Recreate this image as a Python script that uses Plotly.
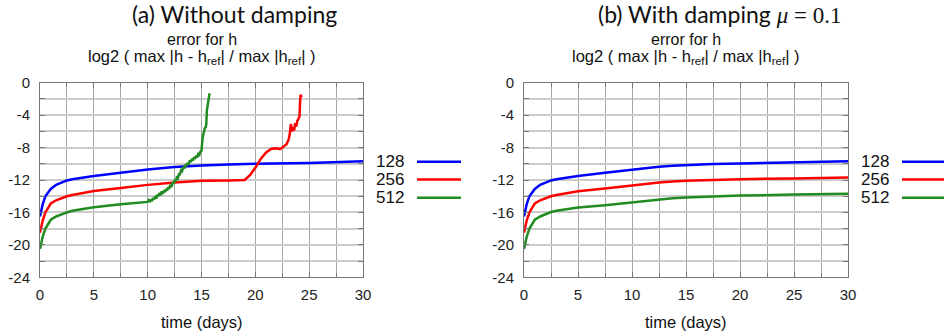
import plotly.graph_objects as go

# ---------------- data ----------------
series_names = ["128", "256", "512"]
series_colors = ["#0000ff", "#ff0000", "#228b22"]

# Panel (a) without damping
a_t_128 = [0, 0.25, 0.5, 1, 1.5, 2, 2.5, 3, 4, 5, 7.5, 10, 12.5, 15, 17.5, 20, 25, 30]
a_v_128 = [-16.5, -15.0, -14.0, -13.1, -12.6, -12.3, -12.05, -11.9, -11.7, -11.5, -11.1, -10.7, -10.4, -10.2, -10.1, -10.0, -9.9, -9.7]

a_t_256 = [0, 0.25, 0.5, 1, 1.5, 2, 2.5, 3, 4, 5, 7.5, 10, 12.5, 15, 17.5, 19.0, 19.5, 20.0, 20.5, 21.0, 21.5, 22.0, 22.3, 22.6, 22.9, 23.1, 23.2, 23.3, 23.4, 23.5, 23.6, 23.7, 23.8, 23.9, 24.0, 24.1, 24.15, 24.2, 24.3]
a_v_256 = [-18.5, -17.0, -16.0, -14.9, -14.5, -14.2, -14.0, -13.85, -13.6, -13.35, -13.0, -12.6, -12.3, -12.1, -12.05, -12.0, -11.4, -10.5, -9.4, -8.6, -8.15, -8.1, -8.2, -7.9, -7.6, -7.0, -6.3, -5.1, -6.0, -5.5, -5.9, -5.0, -5.4, -4.7, -4.5, -4.2, -2.5, -1.5, -1.8]

a_t_512 = [0, 0.25, 0.5, 1, 1.5, 2, 2.5, 3, 4, 5, 7.5,
           10.0, 10.1, 10.2, 10.3, 10.4, 10.5, 10.6, 10.7, 10.8, 10.9,
           11.0, 11.1, 11.2, 11.3, 11.4, 11.5, 11.6, 11.7, 11.8, 11.9,
           12.0, 12.1, 12.2, 12.3, 12.4, 12.5, 12.6, 12.7, 12.8, 12.9,
           13.0, 13.1, 13.2, 13.3, 13.4, 13.5, 13.6, 13.7, 13.8, 13.9,
           14.0, 14.1, 14.2, 14.3, 14.4, 14.5, 14.6, 14.7, 14.8, 14.9,
           15.0, 15.1, 15.2, 15.3, 15.4, 15.45, 15.5, 15.6, 15.7, 15.75]
a_v_512 = [-20.5, -19.0, -18.0, -16.9, -16.5, -16.2, -16.0, -15.8, -15.55, -15.35, -15.0,
           -14.7, -14.5, -14.7, -14.4, -14.6, -14.2, -14.4, -14.0, -14.3, -13.8,
           -14.0, -13.6, -13.9, -13.4, -13.7, -13.3, -13.5, -13.1, -13.3, -12.9,
           -13.1, -12.6, -12.9, -12.3, -12.5, -12.0, -12.2, -11.7, -11.8, -11.3,
           -11.3, -10.8, -10.9, -10.4, -10.6, -10.1, -10.3, -9.9, -10.1, -9.6,
           -9.8, -9.4, -9.6, -9.2, -9.4, -9.0, -9.2, -8.8, -8.9, -8.5,
           -8.4, -6.8, -6.0, -5.6, -5.5, -5.0, -3.4, -2.5, -1.6, -1.3]

# Panel (b) with damping mu = 0.1
b_t = [0, 0.25, 0.5, 1, 1.5, 2, 2.5, 3, 4, 5, 7.5, 10, 11.25, 12.5, 13.75, 15, 17.5, 20, 25, 30]
b_v_128 = [-16.5, -15.0, -14.0, -13.1, -12.6, -12.3, -12.05, -11.9, -11.7, -11.5, -11.1, -10.7, -10.52, -10.37, -10.25, -10.15, -10.02, -9.95, -9.82, -9.7]
b_v_256 = [-18.5, -17.0, -16.0, -14.9, -14.5, -14.2, -14.0, -13.85, -13.6, -13.4, -13.05, -12.65, -12.47, -12.32, -12.2, -12.1, -12.0, -11.9, -11.8, -11.7]
b_v_512 = [-20.5, -19.0, -18.0, -16.9, -16.5, -16.2, -15.95, -15.8, -15.6, -15.4, -15.1, -14.75, -14.55, -14.38, -14.25, -14.15, -14.02, -13.92, -13.8, -13.7]

x_ticks = [0, 5, 10, 15, 20, 25, 30]
y_ticks = [0, -4, -8, -12, -16, -20, -24]

titles = ["(a) Without damping",
          "(b) With damping <span style='font-family:\"Liberation Serif\"'><i>μ</i> = 0.1</span>"]
subtitle1 = "error for h"
subtitle2 = "log2 ( max |h - h<sub>ref</sub>| / max |h<sub>ref</sub>| )"
xlabel = "time (days)"

# ---------------- figure ----------------
W, H = 944, 336
fig = go.Figure()

panels = [
    (("x", "y"), [(a_t_128, a_v_128), (a_t_256, a_v_256), (a_t_512, a_v_512)]),
    (("x2", "y2"), [(b_t, b_v_128), (b_t, b_v_256), (b_t, b_v_512)]),
]
for (xa, ya), data in panels:
    for (t, v), name, col in zip(data, series_names, series_colors):
        fig.add_trace(go.Scatter(x=t, y=v, mode="lines", name=name, xaxis=xa, yaxis=ya,
                                 line=dict(color=col, width=2.5), showlegend=False))

# plot-area pixel geometry
left_dom = (40, 363)
right_dom = (524, 848)
top_px, bot_px = 82.7, 277.3

def px_x(p):
    return p / W

def px_y(p):
    return 1 - p / H

ydom = [px_y(bot_px), px_y(top_px)]
tick_font = dict(family="Liberation Sans, Arial", size=15, color="#222")

def xaxis(dom, anchor):
    return dict(domain=[px_x(dom[0]), px_x(dom[1])], anchor=anchor, range=[0, 30],
                tickvals=x_ticks, ticktext=[str(v) for v in x_ticks], tickfont=tick_font,
                showgrid=True, gridcolor="#a6a6a6", gridwidth=1,
                minor=dict(dtick=2.5, tick0=0, showgrid=True, gridcolor="#a6a6a6", gridwidth=1,
                           ticks="inside", ticklen=4, tickcolor="#777"),
                showline=True, linecolor="#777", linewidth=1, mirror="ticks",
                ticks="inside", ticklen=5, tickcolor="#777", zeroline=False,
                ticklabelstandoff=4, automargin=False)

def yaxis(anchor):
    return dict(domain=ydom, anchor=anchor, range=[-24, 0],
                tickvals=y_ticks, ticktext=[str(v) for v in y_ticks], tickfont=tick_font,
                showgrid=True, gridcolor="#cccccc", gridwidth=2,
                minor=dict(dtick=2, tick0=0, showgrid=True, gridcolor="#cccccc", gridwidth=2,
                           ticks="inside", ticklen=5, tickcolor="#777"),
                showline=True, linecolor="#777", linewidth=1, mirror="ticks",
                ticks="inside", ticklen=5, tickcolor="#777", zeroline=False,
                ticklabelstandoff=6, automargin=False)

fig.update_layout(
    width=W, height=H, margin=dict(l=0, r=0, t=0, b=0, autoexpand=False),
    paper_bgcolor="white", plot_bgcolor="white", showlegend=False,
    xaxis=xaxis(left_dom, "y"), yaxis=yaxis("x"),
    xaxis2=xaxis(right_dom, "y2"), yaxis2=yaxis("x2"),
)

anns = []
shapes = []
for dom, title in zip([left_dom, right_dom], titles):
    cx = (dom[0] + dom[1]) / 2
    anns.append(dict(text=title, x=px_x(cx + 33), y=px_y(14), xref="paper", yref="paper",
                     showarrow=False, xanchor="center", yanchor="middle",
                     font=dict(family="Lato, Noto Sans", size=23, color="#111")))
    anns.append(dict(text=subtitle1, x=px_x(cx), y=px_y(39), xref="paper", yref="paper",
                     showarrow=False, xanchor="center", yanchor="middle",
                     font=dict(family="Liberation Sans, Arial", size=16, color="#111")))
    anns.append(dict(text=subtitle2, x=px_x(cx), y=px_y(57), xref="paper", yref="paper",
                     showarrow=False, xanchor="center", yanchor="middle",
                     font=dict(family="Liberation Sans, Arial", size=16.5, color="#111")))
    anns.append(dict(text=xlabel, x=px_x(cx), y=px_y(322), xref="paper", yref="paper",
                     showarrow=False, xanchor="center", yanchor="middle",
                     font=dict(family="Liberation Sans, Arial", size=16.5, color="#111")))

# manual legends: label then line sample, right of each panel
legend_rows_px = [161.7, 179.5, 197.7]
legend_specs = [(406, 417, 461), (891, 902, 944)]
for text_right, l0, l1 in legend_specs:
    for name, col, ry in zip(series_names, series_colors, legend_rows_px):
        anns.append(dict(text=name, x=px_x(text_right), y=px_y(ry), xref="paper", yref="paper",
                         showarrow=False, xanchor="right", yanchor="middle",
                         font=dict(family="Liberation Sans, Arial", size=17, color="#111")))
        shapes.append(dict(type="line", xref="paper", yref="paper",
                           x0=px_x(l0), x1=px_x(l1), y0=px_y(ry), y1=px_y(ry),
                           line=dict(color=col, width=2.5)))

fig.update_layout(annotations=anns, shapes=shapes)
fig.write_html("out.html", config={"displayModeBar": False},
               post_script="document.body.style.margin='0';document.body.style.overflow='hidden';")
